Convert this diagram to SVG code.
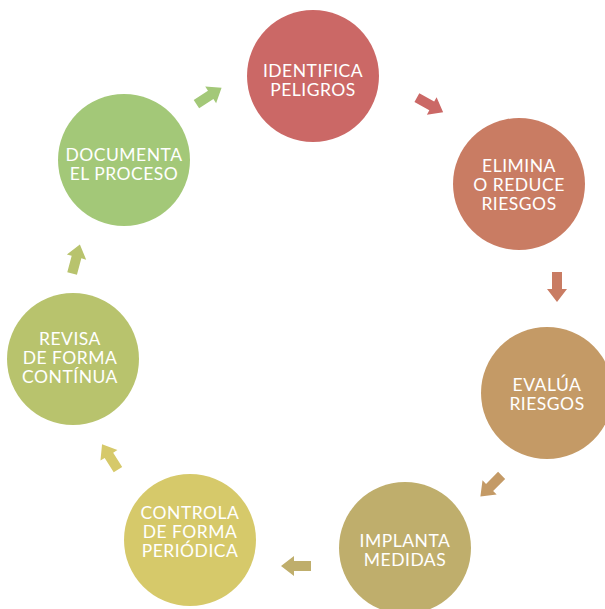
<svg xmlns="http://www.w3.org/2000/svg" width="605" height="609" viewBox="0 0 605 609">
<defs>
<style>
text{font-family:Lato,"Open Sans","Liberation Sans",sans-serif;font-size:17.5px;letter-spacing:0.5px;fill:#fff;text-anchor:middle;dominant-baseline:central}
</style>
<path id="arr" d="M-15,-5 L2,-5 L2,-10 L15,0 L2,10 L2,5 L-15,5 Z"/>
</defs>
<rect width="605" height="609" fill="#fff"/>
<g id="n1"><circle cx="313" cy="76" r="66" fill="#CB6866"/><text x="313" y="70">IDENTIFICA</text><text x="313" y="89">PELIGROS</text></g>
<g id="n2"><circle cx="519" cy="184" r="66" fill="#C97C63"/><text x="519" y="165">ELIMINA</text><text x="519" y="184">O REDUCE</text><text x="519" y="203">RIESGOS</text></g>
<g id="n3"><circle cx="547" cy="393" r="66" fill="#C49A66"/><text x="547" y="384">EVALÚA</text><text x="547" y="403">RIESGOS</text></g>
<g id="n4"><circle cx="405" cy="548" r="66" fill="#BFAE6C"/><text x="405" y="540">IMPLANTA</text><text x="405" y="559">MEDIDAS</text></g>
<g id="n5"><circle cx="190" cy="540" r="66" fill="#D6C96A"/><text x="190" y="512">CONTROLA</text><text x="190" y="531">DE FORMA</text><text x="190" y="550">PERIÓDICA</text></g>
<g id="n6"><circle cx="73" cy="359" r="66" fill="#B8C36D"/><text x="70" y="338">REVISA</text><text x="70" y="357">DE FORMA</text><text x="70" y="376">CONTÍNUA</text></g>
<g id="n7"><circle cx="124" cy="160" r="66" fill="#A3C878"/><text x="124" y="154">DOCUMENTA</text><text x="124" y="173">EL PROCESO</text></g>
<g id="connectors">
<use href="#arr" fill="#A3C878" transform="translate(209,96) rotate(-33)"/>
<use href="#arr" fill="#CB6866" transform="translate(430,105) rotate(29)"/>
<use href="#arr" fill="#C97C63" transform="translate(557,287) rotate(90)"/>
<use href="#arr" fill="#C49A66" transform="translate(491,486) rotate(135)"/>
<use href="#arr" fill="#BFAE6C" transform="translate(296,566) rotate(180)"/>
<use href="#arr" fill="#D6C96A" transform="translate(110,457) rotate(-122)"/>
<use href="#arr" fill="#B8C36D" transform="translate(76,259) rotate(-75)"/>
</g>
</svg>
